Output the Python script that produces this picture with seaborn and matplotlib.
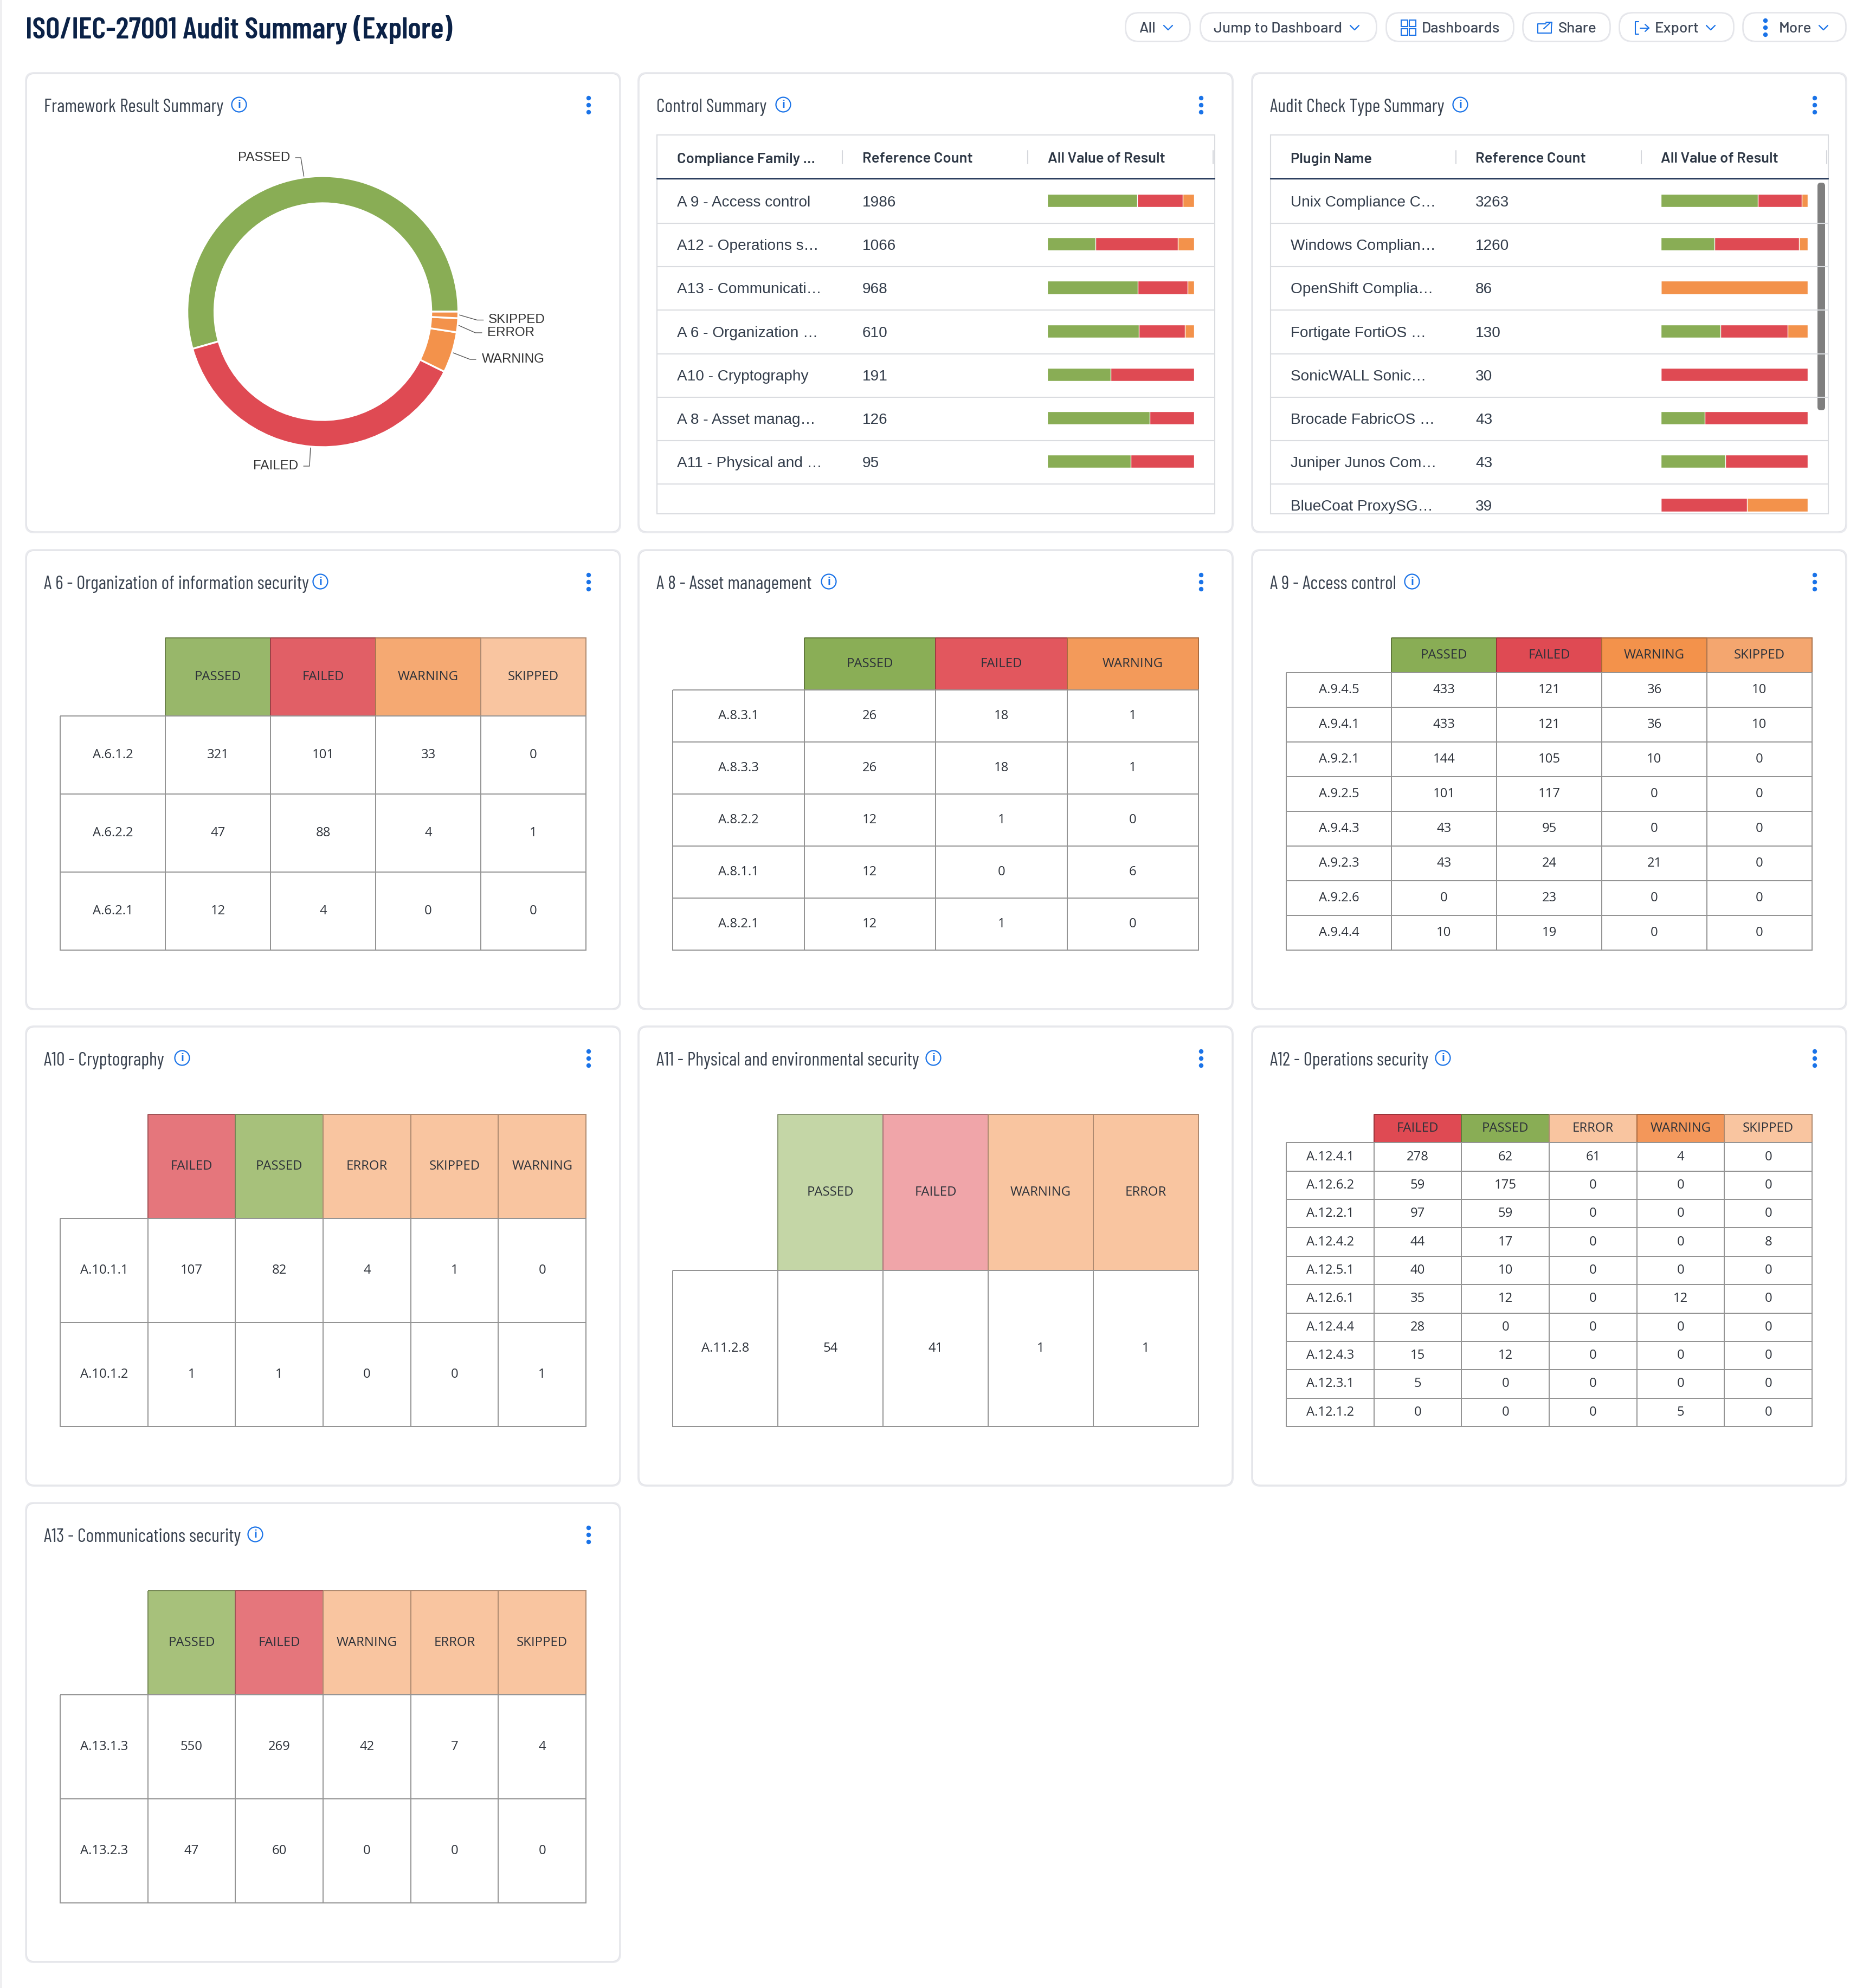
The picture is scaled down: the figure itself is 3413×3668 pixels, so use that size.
import numpy as np
import pandas as pd
import matplotlib
matplotlib.use('Agg')
import matplotlib.pyplot as plt
import seaborn as sns
from matplotlib.colors import ListedColormap, to_rgb
from matplotlib.patches import FancyBboxPatch, Circle, Rectangle

W, H = 3413, 3668

# donut data
donut_labels = ['PASSED', 'FAILED', 'WARNING', 'ERROR', 'SKIPPED']
donut_values = [2742, 1928, 245, 84, 39]

# control summary
control_names = ['A 9 - Access control', 'A12 - Operations s…', 'A13 - Communicati…', 'A 6 - Organization …',
                 'A10 - Cryptography', 'A 8 - Asset manag…', 'A11 - Physical and …']
control_counts = [1986, 1066, 968, 610, 191, 126, 95]
control_passed = [61.1, 32.9, 61.7, 62.2, 43.2, 69.8, 56.8]
control_failed = [31.3, 56.2, 33.7, 31.5, 56.8, 30.2, 43.2]
control_other = [7.6, 10.9, 4.6, 6.3, 0, 0, 0]

# audit check type summary
plugin_names = ['Unix Compliance C…', 'Windows Complian…', 'OpenShift Complia…', 'Fortigate FortiOS …',
                'SonicWALL Sonic…', 'Brocade FabricOS …', 'Juniper Junos Com…', 'BlueCoat ProxySG…']
plugin_counts = [3263, 1260, 86, 130, 30, 43, 43, 39]
plugin_passed = [66.3, 36.9, 0, 40.9, 0, 29.9, 44.1, 0]
plugin_failed = [29.7, 57.5, 0, 45.7, 100, 70.1, 55.9, 58.8]
plugin_other = [4.0, 5.6, 100, 13.4, 0, 0, 0, 41.2]

# control tables
a6_rows = ['A.6.1.2', 'A.6.2.2', 'A.6.2.1']
a6_cols = ['PASSED', 'FAILED', 'WARNING', 'SKIPPED']
a6_vals = [[321, 101, 33, 0], [47, 88, 4, 1], [12, 4, 0, 0]]
a6_head = ['#98B76A', '#E15F66', '#F5A972', '#F9C5A0']

a8_rows = ['A.8.3.1', 'A.8.3.3', 'A.8.2.2', 'A.8.1.1', 'A.8.2.1']
a8_cols = ['PASSED', 'FAILED', 'WARNING']
a8_vals = [[26, 18, 1], [26, 18, 1], [12, 1, 0], [12, 0, 6], [12, 1, 0]]
a8_head = ['#8AAE56', '#E2575E', '#F39A5A']

a9_rows = ['A.9.4.5', 'A.9.4.1', 'A.9.2.1', 'A.9.2.5', 'A.9.4.3', 'A.9.2.3', 'A.9.2.6', 'A.9.4.4']
a9_cols = ['PASSED', 'FAILED', 'WARNING', 'SKIPPED']
a9_vals = [[433, 121, 36, 10], [433, 121, 36, 10], [144, 105, 10, 0], [101, 117, 0, 0],
           [43, 95, 0, 0], [43, 24, 21, 0], [0, 23, 0, 0], [10, 19, 0, 0]]
a9_head = ['#89AD55', '#DF4A53', '#F3924B', '#F4A66F']

a10_rows = ['A.10.1.1', 'A.10.1.2']
a10_cols = ['FAILED', 'PASSED', 'ERROR', 'SKIPPED', 'WARNING']
a10_vals = [[107, 82, 4, 1, 0], [1, 1, 0, 0, 1]]
a10_head = ['#E5767C', '#A7C17B', '#F9C5A0', '#F9C5A0', '#F9C5A0']

a11_rows = ['A.11.2.8']
a11_cols = ['PASSED', 'FAILED', 'WARNING', 'ERROR']
a11_vals = [[54, 41, 1, 1]]
a11_head = ['#C4D6A6', '#F0A5A9', '#F9C5A0', '#F9C5A0']

a12_rows = ['A.12.4.1', 'A.12.6.2', 'A.12.2.1', 'A.12.4.2', 'A.12.5.1', 'A.12.6.1', 'A.12.4.4', 'A.12.4.3', 'A.12.3.1', 'A.12.1.2']
a12_cols = ['FAILED', 'PASSED', 'ERROR', 'WARNING', 'SKIPPED']
a12_vals = [[278, 62, 61, 4, 0], [59, 175, 0, 0, 0], [97, 59, 0, 0, 0], [44, 17, 0, 0, 8], [40, 10, 0, 0, 0],
            [35, 12, 0, 12, 0], [28, 0, 0, 0, 0], [15, 12, 0, 0, 0], [5, 0, 0, 0, 0], [0, 0, 0, 5, 0]]
a12_head = ['#DF4A53', '#89AD55', '#F9C5A0', '#F3975A', '#F9C5A0']

a13_rows = ['A.13.1.3', 'A.13.2.3']
a13_cols = ['PASSED', 'FAILED', 'WARNING', 'ERROR', 'SKIPPED']
a13_vals = [[550, 269, 42, 7, 4], [47, 60, 0, 0, 0]]
a13_head = ['#A7C17B', '#E5767C', '#F9C5A0', '#F9C5A0', '#F9C5A0']

# colors
GREEN, RED, ORANGE = '#89AD55', '#DF4A53', '#F3924B'
NAVY, INK, BLUE = '#0B2247', '#333D4B', '#1A73E8'
GRID = '#949494'

# font lists, the second name is only there in case the first one is not installed
COND = ['Barlow Condensed', 'Roboto']
BARLOW = ['Barlow', 'Roboto']

sns.set_theme(style='white')
plt.rcParams['font.family'] = ['Liberation Sans', 'DejaVu Sans']

fig = plt.figure(figsize=(W / 100, H / 100), dpi=100, facecolor='white')

# whole page layer in pixel units, all the chrome goes here
bg = fig.add_axes([0, 0, 1, 1])
bg.set_xlim(0, W)
bg.set_ylim(H, 0)
bg.axis('off')


def pixel_axes(x0, y0, x1, y1):
    ax = fig.add_axes([x0 / W, 1 - y1 / H, (x1 - x0) / W, (y1 - y0) / H])
    return ax


def rounded(x0, y0, x1, y1, rad, **kw):
    bg.add_patch(FancyBboxPatch((x0 + rad, y0 + rad), x1 - x0 - 2 * rad, y1 - y0 - 2 * rad,
                                boxstyle='round,pad=%f,rounding_size=%f' % (rad, rad), **kw))


def chevron(x, y):
    bg.plot([x - 8, x, x + 8], [y - 4, y + 4, y - 4], color=BLUE, lw=1.6, solid_capstyle='round')


def dots(x, y):
    for off in [-13, 0, 13]:
        bg.add_patch(Circle((x, y + off), 4.2, color=BLUE, lw=0))


def draw_card(x0, y0, title, info_x):
    # soft shadow then the card
    rounded(x0 - 3, y0 - 3, x0 + 1094 + 3, y0 + 845 + 3, 17, fc='#E9EAEE', ec='none', lw=0)
    rounded(x0, y0, x0 + 1094, y0 + 845, 15, fc='white', ec='#E2E3E8', lw=1.0)
    bg.text(x0 + 32, y0 + 62, title, family=COND, fontweight='regular', fontsize=25, color='#39424F',
            va='center', ha='left')
    bg.add_patch(Circle((info_x, y0 + 57), 13.5, fc='white', ec=BLUE, lw=1.6))
    bg.text(info_x, y0 + 57.5, 'i', family='Liberation Sans', fontsize=15, fontweight='bold',
            color=BLUE, ha='center', va='center')
    dots(x0 + 1037, y0 + 58)


def darker(color, amount=0.3):
    return tuple(c * (1 - amount) for c in to_rgb(color))


def draw_table(x0, y0, rows, cols, vals, head):
    '''Draws one control table from three heatmaps: header, row labels, values'''
    left, right = x0 + 62, x0 + 1032
    top, bottom = y0 + 161, y0 + 737
    cw = (right - left) / (len(cols) + 1)
    rh = (bottom - top) / (len(rows) + 1)
    kws = dict(family='Open Sans', fontsize=17.2, color='#2C3139')

    ax = pixel_axes(left + cw, top, right, top + rh)
    sns.heatmap(np.arange(len(cols)).reshape(1, -1), ax=ax, cmap=ListedColormap(head), cbar=False,
                annot=np.array(cols).reshape(1, -1), fmt='', annot_kws=kws, linewidths=1.2,
                xticklabels=False, yticklabels=False)
    ax.collections[0].set_edgecolor([darker(c) for c in head])
    ax.collections[0].set_clip_on(False)

    ax = pixel_axes(left, top + rh, left + cw, bottom)
    sns.heatmap(np.zeros((len(rows), 1)), ax=ax, cmap=ListedColormap(['white']), cbar=False,
                annot=np.array(rows).reshape(-1, 1), fmt='', annot_kws=kws, linewidths=1.2, linecolor=GRID,
                xticklabels=False, yticklabels=False)
    ax.collections[0].set_clip_on(False)

    df = pd.DataFrame(vals, index=rows, columns=cols)
    ax = pixel_axes(left + cw, top + rh, right, bottom)
    sns.heatmap(df, ax=ax, cmap=ListedColormap(['white']), cbar=False, annot=True, fmt='d', annot_kws=kws,
                linewidths=1.2, linecolor=GRID, xticklabels=False, yticklabels=False)
    ax.set_xlabel('')
    ax.set_ylabel('')
    ax.collections[0].set_clip_on(False)


def draw_summary(x0, y_top, y_bottom, x1, headers, col_x, sep_x, bar_x, names, counts, passed, failed, other):
    '''Table with a stacked bar column, bars are overdrawn from the longest total down'''
    bg.add_patch(Rectangle((x0, y_top), x1 - x0, y_bottom - y_top, fc='white', ec='#DADCE0', lw=1.5))
    bg.plot([x0, x1], [330, 330], color=NAVY, lw=1.6)
    for head, cx in zip(headers, col_x):
        bg.text(cx, 293.5, head, family=BARLOW, fontweight='semibold', fontsize=19.7, color='#2C3644', va='center')
    for sx in sep_x:
        bg.plot([sx, sx], [278, 302], color='#D5D7DC', lw=1.5)
    for i, (name, count) in enumerate(zip(names, counts)):
        yc = 371 + 80.2 * i
        bg.text(col_x[0], yc + 3, name, fontsize=20.2, color=INK, va='center')
        bg.text(col_x[1], yc + 3, str(count), fontsize=20.2, color=INK, va='center')
        if yc + 40 < y_bottom:
            bg.plot([x0, x1], [yc + 41, yc + 41], color='#DADCE0', lw=1.5)

    n = len(names)
    ax = pixel_axes(bar_x[0], 330, bar_x[1], 330 + 80.2 * n)
    ax.patch.set_alpha(0)
    p = np.array(passed)
    f = np.array(failed)
    o = np.array(other)
    sns.barplot(x=p + f + o, y=names, ax=ax, color=ORANGE, saturation=1, width=0.3, orient='h')
    sns.barplot(x=p + f, y=names, ax=ax, color=RED, saturation=1, width=0.3, orient='h')
    sns.barplot(x=p, y=names, ax=ax, color=GREEN, saturation=1, width=0.3, orient='h')
    ax.set_xlim(0, 100)
    ax.axis('off')


# page header
bg.add_patch(Rectangle((0, 0), 4, H, fc='#EFEFF1', ec='none'))
bg.text(47, 55, 'ISO/IEC-27001 Audit Summary (Explore)', family=COND, fontweight='semibold', fontsize=40.7,
        color=NAVY, va='center')

buttons = [(2077, 2195, 'All', 2101), (2215, 2539, 'Jump to Dashboard', 2239), (2558, 2792, 'Dashboards', 2623),
           (2810, 2970, 'Share', 2875), (2988, 3198, 'Export', 3053), (3216, 3405, 'More', 3282)]
for bx0, bx1, label, tx in buttons:
    rounded(bx0 - 2, 22, bx1 + 2, 78, 26, fc='#E9EAEE', ec='none', lw=0)
    rounded(bx0, 24, bx1, 76, 25, fc='white', ec='#E2E3E8', lw=1.0)
    bg.text(tx, 53, label, family=BARLOW, fontweight='medium', fontsize=20, color='#3E4756', va='center')
for cx in [2155, 2499, 3156, 3364]:
    chevron(cx, 51)
dots(3257, 51)
# dashboards icon
for gx, gy in [(2585, 37), (2600, 37), (2585, 53), (2600, 53)]:
    bg.add_patch(Rectangle((gx, gy), 12, 12, fc='none', ec=BLUE, lw=1.5))
# share icon
bg.plot([2862, 2862, 2837, 2837, 2852], [50, 61, 61, 44, 44], color=BLUE, lw=1.5)
bg.plot([2848, 2861], [53, 41], color=BLUE, lw=1.5)
bg.plot([2852, 2863, 2862], [41, 41, 50], color=BLUE, lw=1.5)
# export icon
bg.plot([3023, 3017, 3017, 3023], [40, 40, 63, 63], color=BLUE, lw=1.5)
bg.plot([3026, 3042], [51.5, 51.5], color=BLUE, lw=1.5)
bg.plot([3035, 3042, 3035], [45, 51.5, 58], color=BLUE, lw=1.5)

# cards
X1, X2, X3 = 49, 1179, 2311
Y1, Y2, Y3, Y4 = 136, 1016, 1895, 2774
draw_card(X1, Y1, 'Framework Result Summary', 441)
draw_card(X2, Y1, 'Control Summary', 1445)
draw_card(X3, Y1, 'Audit Check Type Summary', 2694)
draw_card(X1, Y2, 'A 6 - Organization of information security', 591)
draw_card(X2, Y2, 'A 8 - Asset management', 1529)
draw_card(X3, Y2, 'A 9 - Access control', 2605)
draw_card(X1, Y3, 'A10 - Cryptography', 336)
draw_card(X2, Y3, 'A11 - Physical and environmental security', 1722)
draw_card(X3, Y3, 'A12 - Operations security', 2662)
draw_card(X1, Y4, 'A13 - Communications security', 471)

# donut
CX, CY, R = 595.6, 575, 250
ax = pixel_axes(CX - 300, CY - 300, CX + 300, CY + 300)
wedges, _ = ax.pie(donut_values, radius=1, startangle=0, counterclock=True,
                   colors=[GREEN, RED, ORANGE, ORANGE, ORANGE],
                   wedgeprops=dict(width=0.2, edgecolor='white', linewidth=2.4))
ax.set_xlim(-1.2, 1.2)
ax.set_ylim(-1.2, 1.2)

# leader lines and labels: elbow x/y and the text anchor are layout
leaders = {'PASSED': (555, 291, 545, 535, 'right'), 'FAILED': (571, 860, 560, 550, 'right'),
           'WARNING': (867, 663, 878, 889, 'left'), 'ERROR': (877, 614, 889, 899, 'left'),
           'SKIPPED': (880, 590.5, 892, 901, 'left')}
for wedge, label in zip(wedges, donut_labels):
    ang = np.deg2rad((wedge.theta1 + wedge.theta2) / 2)
    ex, ey, ex2, tx, ha = leaders[label]
    sx, sy = CX + (R + 2) * np.cos(ang), CY - (R + 2) * np.sin(ang)
    bg.plot([sx, ex, ex2], [sy, ey, ey], color='#555555', lw=1.0)
    bg.text(tx, ey, label, fontsize=17.4, color='#333333', ha=ha, va='center')

draw_summary(1212, 249, 948, 2241, ['Compliance Family ...', 'Reference Count', 'All Value of Result'],
             [1249, 1591, 1933], [1553.5, 1896, 2238], (1932, 2203),
             control_names, control_counts, control_passed, control_failed, control_other)
draw_summary(2343.6, 249, 948, 3372.5, ['Plugin Name', 'Reference Count', 'All Value of Result'],
             [2381, 2722, 3064], [2686, 3028, 3369.6], (3063.5, 3334.5),
             plugin_names, plugin_counts, plugin_passed, plugin_failed, plugin_other)
# scrollbar on the audit check table
rounded(3353, 337, 3367, 757, 6, fc='#7F7F7F', ec='none', lw=0)

draw_table(X1, Y2, a6_rows, a6_cols, a6_vals, a6_head)
draw_table(X2, Y2, a8_rows, a8_cols, a8_vals, a8_head)
draw_table(X3, Y2, a9_rows, a9_cols, a9_vals, a9_head)
draw_table(X1, Y3, a10_rows, a10_cols, a10_vals, a10_head)
draw_table(X2, Y3, a11_rows, a11_cols, a11_vals, a11_head)
draw_table(X3, Y3, a12_rows, a12_cols, a12_vals, a12_head)
draw_table(X1, Y4, a13_rows, a13_cols, a13_vals, a13_head)

fig.savefig('out.png', dpi=100, facecolor='white')
